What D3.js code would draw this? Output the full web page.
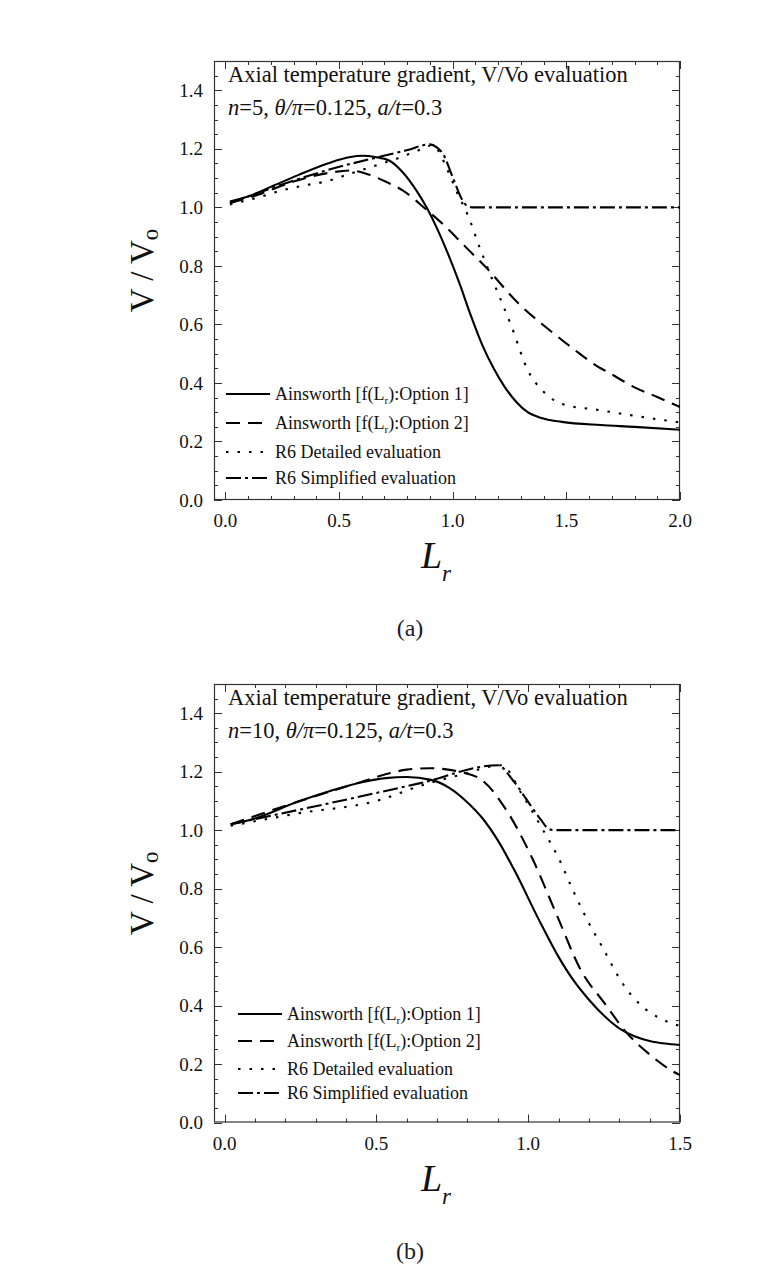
<!DOCTYPE html>
<html>
<head>
<meta charset="utf-8">
<script src="https://cdn.jsdelivr.net/npm/d3@7"></script>
<style>
  html, body { margin: 0; padding: 0; background: #fff; }
  svg { display: block; }
  text { font-family: "Liberation Serif", "Times New Roman", serif; fill: #111; }
</style>
</head>
<body>
<svg id="chart" width="784" height="1274" font-family="Liberation Serif, serif"></svg>
<script>
// ---------------- DATA ----------------
const seriesNames = ["Ainsworth [f(L_r):Option 1]", "Ainsworth [f(L_r):Option 2]", "R6 Detailed evaluation", "R6 Simplified evaluation"];
const yTickLabels = [0.0, 0.2, 0.4, 0.6, 0.8, 1.0, 1.2, 1.4];
const xTickLabelsA = [0.0, 0.5, 1.0, 1.5, 2.0];
const xTickLabelsB = [0.0, 0.5, 1.0, 1.5];

// Panel (a): n=5
const a_opt1 = [[0.02,1.02],[0.1,1.037],[0.2,1.07],[0.32,1.11],[0.45,1.15],[0.55,1.172],[0.6,1.176],[0.66,1.172],[0.72,1.16],[0.78,1.12],[0.84,1.058],[0.885,1.0],[0.93,0.93],[0.98,0.84],[1.03,0.74],[1.08,0.63],[1.13,0.53],[1.18,0.45],[1.23,0.385],[1.28,0.335],[1.33,0.3],[1.39,0.28],[1.48,0.267],[1.65,0.256],[1.8,0.25],[2.0,0.24]];
const a_opt2 = [[0.02,1.015],[0.15,1.045],[0.3,1.088],[0.45,1.117],[0.55,1.126],[0.62,1.115],[0.71,1.086],[0.78,1.058],[0.88,0.995],[0.97,0.933],[1.05,0.87],[1.145,0.796],[1.29,0.671],[1.39,0.603],[1.435,0.575],[1.55,0.505],[1.64,0.455],[1.68,0.438],[1.8,0.385],[1.9,0.352],[1.97,0.328],[2.0,0.318]];
const a_r6det = [[0.02,1.01],[0.15,1.035],[0.25,1.058],[0.35,1.075],[0.44,1.088],[0.55,1.115],[0.65,1.14],[0.75,1.165],[0.85,1.195],[0.91,1.212],[0.94,1.19],[0.97,1.14],[1.02,1.05],[1.07,0.967],[1.12,0.86],[1.17,0.762],[1.26,0.591],[1.33,0.444],[1.4,0.37],[1.46,0.335],[1.51,0.322],[1.62,0.31],[1.83,0.284],[2.0,0.265]];
const a_r6simp = [[0.02,1.015],[0.435,1.124],[0.797,1.195],[0.9,1.215],[0.93,1.205],[0.957,1.183],[1.0,1.103],[1.043,1.024],[1.065,1.004],[1.085,1.0],[2.0,1.0]];

// Panel (b): n=10
const b_opt1 = [[0.02,1.02],[0.1,1.04],[0.24,1.097],[0.35,1.135],[0.456,1.165],[0.53,1.178],[0.6,1.182],[0.68,1.172],[0.74,1.145],[0.8,1.095],[0.85,1.04],[0.9,0.965],[0.956,0.86],[1.032,0.7],[1.098,0.57],[1.15,0.485],[1.2,0.42],[1.25,0.365],[1.3,0.322],[1.35,0.295],[1.4,0.279],[1.45,0.27],[1.5,0.265]];
const b_opt2 = [[0.02,1.02],[0.24,1.097],[0.45,1.165],[0.533,1.192],[0.6,1.207],[0.674,1.212],[0.73,1.208],[0.777,1.199],[0.848,1.171],[0.935,1.057],[1.011,0.909],[1.098,0.7],[1.174,0.52],[1.25,0.41],[1.326,0.305],[1.402,0.231],[1.478,0.174],[1.5,0.162]];
const b_r6det = [[0.02,1.015],[0.24,1.057],[0.51,1.103],[0.64,1.15],[0.78,1.19],[0.913,1.222],[0.978,1.125],[1.043,1.011],[1.098,0.909],[1.152,0.784],[1.206,0.67],[1.239,0.61],[1.27,0.55],[1.304,0.487],[1.37,0.402],[1.435,0.356],[1.5,0.33]];
const b_r6simp = [[0.02,1.02],[0.641,1.16],[0.9,1.222],[0.95,1.17],[1.011,1.08],[1.043,1.034],[1.065,1.006],[1.085,1.0],[1.5,1.0]];

const titleLine1 = "Axial temperature gradient, V/Vo evaluation";

// ---------------- DRAW ----------------
const svg = d3.select("#chart");
svg.append("rect").attr("width", 784).attr("height", 1274).attr("fill", "#fff");

const styles = [
  { dash: null },
  { dash: "14,8" },
  { dash: "2.5,9" },
  { dash: "15,4,3,4" }
];

function drawPanel(p) {
  const g = svg.append("g");
  const x = d3.scaleLinear().domain([p.xMin, p.xMax]).range([p.left, p.right]);
  const y = d3.scaleLinear().domain([0, 1.5]).range([p.bottom, p.top]);

  const cid = "clip" + p.id;
  svg.append("clipPath").attr("id", cid).append("rect")
    .attr("x", p.left).attr("y", p.top).attr("width", p.right - p.left).attr("height", p.bottom - p.top);

  // ticks (inward, mirrored)
  const xMinor = d3.range(0, p.xMax + 1e-9, 0.1).filter(v => Math.abs(v / 0.5 - Math.round(v / 0.5)) > 1e-6);
  const yMinor = d3.range(0, 1.5 + 1e-9, 0.05).filter(v => Math.abs(v / 0.2 - Math.round(v / 0.2)) > 1e-6 && v < 1.5 - 1e-6);
  const tickCol = "#333";
  const xMajor = p.xTicks;
  function tickSet(vals, len, axis) {
    vals.forEach(v => {
      if (axis === "x") {
        const xx = Math.round(x(v)) + 0.5;
        g.append("line").attr("x1", xx).attr("x2", xx).attr("y1", p.bottom).attr("y2", p.bottom - len).attr("stroke", tickCol);
        g.append("line").attr("x1", xx).attr("x2", xx).attr("y1", p.top).attr("y2", p.top + len).attr("stroke", tickCol);
      } else {
        const yy = Math.round(y(v)) + 0.5;
        g.append("line").attr("x1", p.left).attr("x2", p.left + len).attr("y1", yy).attr("y2", yy).attr("stroke", tickCol);
        g.append("line").attr("x1", p.right).attr("x2", p.right - len).attr("y1", yy).attr("y2", yy).attr("stroke", tickCol);
      }
    });
  }
  tickSet(xMajor, 8, "x");
  tickSet(xMinor, 4, "x");
  tickSet(yTickLabels, 8, "y");
  tickSet(yMinor, 4, "y");

  // frame
  g.append("rect").attr("x", p.left + 0.5).attr("y", p.top + 0.5)
    .attr("width", p.right - p.left - 1).attr("height", p.bottom - p.top - 1)
    .attr("fill", "none").attr("stroke", "#333").attr("stroke-width", 1.2);

  // tick labels
  g.selectAll(".xl").data(xMajor).join("text")
    .attr("x", d => x(d)).attr("y", p.bottom + 27)
    .attr("text-anchor", "middle").attr("font-size", 19)
    .text(d => d.toFixed(1));
  g.selectAll(".yl").data(yTickLabels).join("text")
    .attr("x", p.left - 11).attr("y", d => y(d)).attr("dy", "0.35em")
    .attr("text-anchor", "end").attr("font-size", 19)
    .text(d => d.toFixed(1));

  // curves
  const line = d3.line().x(d => x(d[0])).y(d => y(d[1])).curve(d3.curveMonotoneX);
  const cg = g.append("g").attr("clip-path", `url(#${cid})`);
  p.series.forEach((s, i) => {
    cg.append("path").datum(s).attr("d", line)
      .attr("fill", "none").attr("stroke", "#000").attr("stroke-width", 2.1)
      .attr("stroke-dasharray", styles[i].dash);
  });

  // legend
  p.legendY.forEach((ly, i) => {
    g.append("line").attr("x1", p.legX).attr("x2", p.legX + 44)
      .attr("y1", ly).attr("y2", ly)
      .attr("stroke", "#000").attr("stroke-width", 2.1)
      .attr("stroke-dasharray", styles[i].dash);
    const t = g.append("text").attr("x", p.legX + 49).attr("y", ly).attr("dy", "0.35em").attr("font-size", 18);
    const name = seriesNames[i];
    if (name.includes("L_r")) {
      const parts = name.split("L_r");
      t.append("tspan").text(parts[0] + "L");
      t.append("tspan").attr("font-size", 11).attr("dy", 4).text("r");
      t.append("tspan").attr("dy", -4).text(parts[1]);
    } else {
      t.text(name);
    }
  });

  // titles
  g.append("text").attr("x", p.left + 14).attr("y", p.titleY).attr("font-size", 22.5).text(titleLine1);
  const t2 = g.append("text").attr("x", p.left + 14).attr("y", p.titleY + 33).attr("font-size", 22.5);
  t2.append("tspan").attr("font-style", "italic").text("n");
  t2.append("tspan").text("=" + p.n + ", ");
  t2.append("tspan").attr("font-style", "italic").text("θ/π");
  t2.append("tspan").text("=0.125, ");
  t2.append("tspan").attr("font-style", "italic").text("a/t");
  t2.append("tspan").text("=0.3");

  // y axis label
  const yc = (p.top + p.bottom) / 2 - 10;
  const yl = g.append("text").attr("transform", `translate(${p.left - 61},${yc}) rotate(-90)`)
    .attr("text-anchor", "middle").attr("font-size", 33);
  yl.append("tspan").text("V / V");
  yl.append("tspan").attr("font-size", 23).attr("dy", 5).text("o");

  // x axis label
  const xl = g.append("text").attr("x", 436).attr("y", p.bottom + 68)
    .attr("text-anchor", "middle").attr("font-size", 38).attr("font-style", "italic");
  xl.append("tspan").text("L");
  xl.append("tspan").attr("font-size", 23).attr("dy", 13).text("r");

  // caption
  g.append("text").attr("x", 410).attr("y", p.bottom + 136).attr("text-anchor", "middle")
    .attr("font-size", 24).attr("font-family", "'Noto Serif CJK KR', 'Liberation Serif', serif")
    .style("fill", "#1c1c2c").text(p.caption);
}

drawPanel({ id: "a", left: 214, right: 680, top: 61, bottom: 500, xMin: -0.05, xMax: 2.0, xTicks: xTickLabelsA,
  series: [a_opt1, a_opt2, a_r6det, a_r6simp], legendY: [394, 423, 452, 478], legX: 226,
  titleY: 82, n: 5, caption: "(a)" });
drawPanel({ id: "b", left: 214, right: 680, top: 684, bottom: 1122.5, xMin: -0.035, xMax: 1.5, xTicks: xTickLabelsB,
  series: [b_opt1, b_opt2, b_r6det, b_r6simp], legendY: [1014, 1041, 1069, 1093], legX: 238,
  titleY: 705, n: 10, caption: "(b)" });
</script>
</body>
</html>
